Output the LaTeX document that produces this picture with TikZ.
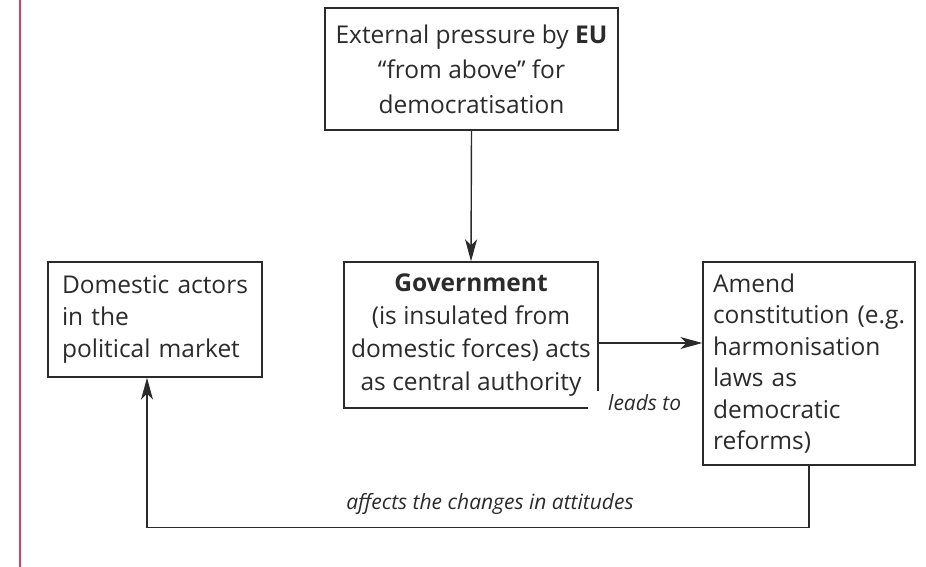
\documentclass[tikz,border=0pt]{standalone}
\usepackage{fontspec}
\setmainfont{Open Sans}
\usetikzlibrary{arrows.meta}
\definecolor{ink}{HTML}{2B2B2B}
\definecolor{marginline}{HTML}{D2406E}
\begin{document}
\begin{tikzpicture}[x=1pt,y=-1pt,
  box/.style={draw=ink, line width=1.4pt, text=ink, inner sep=0pt,
    font=\fontsize{24.5}{33}\selectfont},
  conn/.style={draw=ink, line width=1.4pt,
    -{Stealth[length=22pt,width=12pt,inset=6pt]}},
  lbl/.style={text=ink, font=\fontsize{21}{24}\selectfont\itshape}]
\useasboundingbox (0,0) rectangle (926,567);
% margin rule
\draw[marginline, line width=2pt] (20,0) -- (20,567);
% boxes
\node[box, minimum width=293pt, minimum height=122pt, align=center,
  font=\fontsize{24.5}{35}\selectfont] (eu) at (471.5,69)
  {External pressure by \textbf{EU}\\“from above” for\\democratisation};
\node[box, minimum width=254pt, minimum height=146pt, align=center] (gov) at (471,335)
  {\textbf{Government}\\(is insulated from\\domestic forces) acts\\as central authority};
\node[box, minimum width=214pt, minimum height=115pt, text width=186pt, align=left,
  font=\fontsize{24.5}{32}\selectfont] (dom) at (155,319.5)
  {Domestic actors\\in the\\political market};
\node[box, minimum width=212pt, minimum height=203pt, text width=192pt, align=left,
  font=\fontsize{24.5}{31.5}\selectfont] (amend) at (809,363.5)
  {Amend\\\mbox{constitution (e.g.}\\harmonisation\\laws as\\democratic\\reforms)};
% connectors
\draw[conn] (eu.south) -- (gov.north);
\draw[conn] ([yshift=-8pt]gov.east) -- ([yshift=-8pt]gov.east -| amend.west);
\draw[conn] (amend.south) -- ++(0,62) -| ([xshift=-8pt]dom.south);
% labels
\node[lbl, fill=white, anchor=north west, inner xsep=20pt, inner ysep=3pt] (leads) at (588,391) {leads to};
\node[lbl, anchor=base] (affects) at (490,509) {affects the changes in attitudes};
\end{tikzpicture}
\end{document}
